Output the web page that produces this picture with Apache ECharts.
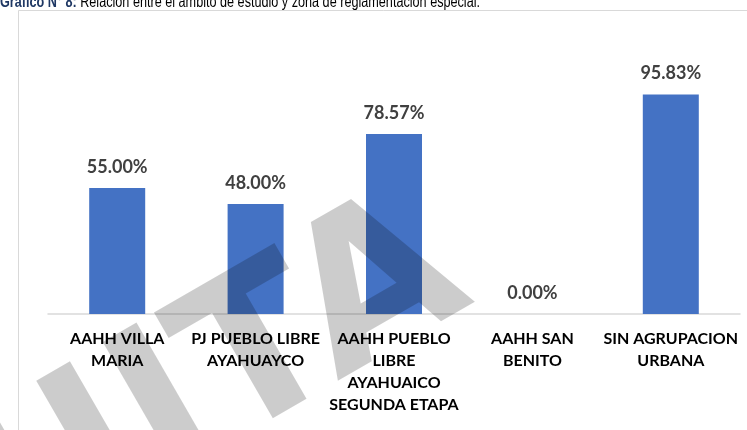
<!DOCTYPE html>
<html>
<head>
<meta charset="utf-8">
<script src="https://cdn.jsdelivr.net/npm/echarts@6/dist/echarts.min.js"></script>
<style>
  html, body { margin: 0; padding: 0; background: #fff; }
  #chart { width: 747px; height: 430px; }
</style>
</head>
<body>
<div id="chart"></div>
<script>
var categories = [
  'AAHH VILLA\nMARIA',
  'PJ PUEBLO LIBRE\nAYAHUAYCO',
  'AAHH PUEBLO\nLIBRE\nAYAHUAICO\nSEGUNDA ETAPA',
  'AAHH SAN\nBENITO',
  'SIN AGRUPACION\nURBANA'
];
var percentages = [55.00, 48.00, 78.57, 0.00, 95.83];

var titleBold = 'Gráfico N° 8:';
var titleText = ' Relación entre el ámbito de estudio y zona de reglamentación especial.';
var watermark = 'GRATUITA';

var myChart = echarts.init(document.getElementById('chart'));

var option = {
  backgroundColor: '#fff',
  animation: false,
  grid: { left: 48, right: 7, top: 85, bottom: 116 },
  xAxis: {
    type: 'category',
    data: categories,
    axisLine: { lineStyle: { color: '#d9d9d9', width: 1.5 } },
    axisTick: { show: false },
    axisLabel: {
      interval: 0,
      margin: 14,
      color: '#000',
      fontFamily: 'Lato',
      fontWeight: 'bold',
      fontSize: 16,
      lineHeight: 22
    }
  },
  yAxis: {
    type: 'value',
    min: 0,
    max: 100,
    show: false,
    splitLine: { show: false }
  },
  series: [{
    type: 'bar',
    data: percentages,
    barWidth: 56,
    itemStyle: { color: '#4472c4' },
    label: {
      show: true,
      position: 'top',
      distance: 10,
      color: '#404040',
      fontFamily: 'Lato',
      fontWeight: 'bold',
      fontSize: 18,
      lineHeight: 22,
      formatter: function (p) { return p.value.toFixed(2) + '%'; }
    }
  }],
  graphic: [
    {
      // marco del grafico
      type: 'rect',
      shape: { x: 18.5, y: 10.5, width: 800, height: 500 },
      style: { fill: 'none', stroke: '#d9d9d9', lineWidth: 1 },
      silent: true,
      z: -1
    },
    {
      // titulo (letra angosta simulada con scaleX)
      type: 'text',
      x: 0,
      y: 11,
      scaleX: 0.79,
      style: {
        text: '{b|' + titleBold + '}{n|' + titleText + '}',
        verticalAlign: 'bottom',
        rich: {
          b: { fontFamily: 'Liberation Sans', fontWeight: 'bold', fontSize: 16, lineHeight: 16, fill: '#1f3864' },
          n: { fontFamily: 'Liberation Sans', fontSize: 16, lineHeight: 16, fill: '#000' }
        }
      },
      silent: true
    },
    {
      // marca de agua
      type: 'text',
      x: 397,
      y: 165,
      rotation: Math.PI / 6,
      style: {
        text: watermark,
        font: 'bold 207px "DejaVu Sans"',
        align: 'right',
        verticalAlign: 'top',
        fill: 'rgba(0,0,0,0.2)'
      },
      silent: true,
      z: 100
    }
  ]
};

myChart.setOption(option);
</script>
</body>
</html>
